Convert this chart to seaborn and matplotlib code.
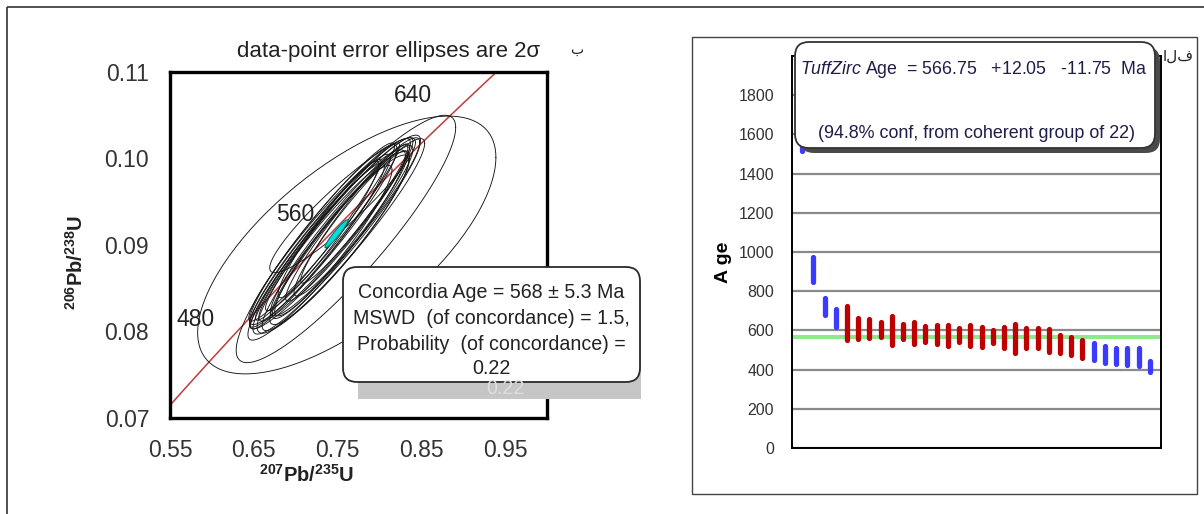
import numpy as np
import pandas as pd
import matplotlib
matplotlib.use("Agg")
import matplotlib.pyplot as plt
import seaborn as sns
from matplotlib.patches import FancyBboxPatch, Rectangle, Polygon

# ---------------- data ----------------
# Concordia plot: data-point error ellipses (centre, half-extent in x/y, correlation)
ell_cx  = [0.761, 0.760, 0.756, 0.741, 0.748, 0.733, 0.756, 0.744, 0.737, 0.759, 0.729, 0.762,
           0.745, 0.749, 0.731, 0.766, 0.726, 0.757, 0.745, 0.770, 0.727, 0.739, 0.752]
ell_cy  = [0.0900, 0.0907, 0.0946, 0.0913, 0.0918, 0.0912, 0.0915, 0.0921, 0.0900, 0.0921, 0.0905, 0.0926,
           0.0905, 0.0912, 0.0915, 0.0925, 0.0899, 0.0912, 0.0903, 0.0936, 0.0906, 0.0918, 0.0906]
ell_ex  = [0.178, 0.131, 0.087, 0.096, 0.092, 0.088, 0.084, 0.080, 0.094, 0.089, 0.084, 0.074,
           0.070, 0.100, 0.087, 0.068, 0.080, 0.097, 0.091, 0.064, 0.075, 0.060, 0.083]
ell_ey  = [0.0149, 0.0143, 0.0078, 0.0110, 0.0106, 0.0104, 0.0100, 0.0097, 0.0110, 0.0103, 0.0100, 0.0091,
           0.0087, 0.0115, 0.0103, 0.0084, 0.0096, 0.0111, 0.0105, 0.0080, 0.0093, 0.0079, 0.0098]
ell_rho = [0.68, 0.90, 0.93, 0.95, 0.96, 0.95, 0.955, 0.97, 0.94, 0.95, 0.96, 0.96,
           0.94, 0.945, 0.965, 0.95, 0.96, 0.95, 0.93, 0.96, 0.97, 0.95, 0.935]
# Concordia-age ellipse (cyan)
conc_cx, conc_cy, conc_ex, conc_ey, conc_rho = 0.7487, 0.0913, 0.0137, 0.00162, 0.95
# Concordia age markers
age_labels = [640, 560, 480]
age_label_offsets = [(-32, 25), (-31, 24), (-20, 35)]
conc_age_range = (440, 700)
LAMBDA_235 = 9.8485e-10
LAMBDA_238 = 1.55125e-10

x_ticks = [0.55, 0.65, 0.75, 0.85, 0.95]
x_ticklabels = ["0.55", "0.65", "0.75", "0.85", "0.95"]
x_minor = [0.60, 0.70, 0.80, 0.90]
y_ticks = [0.07, 0.08, 0.09, 0.10, 0.11]
y_ticklabels = ["0.07", "0.08", "0.09", "0.10", "0.11"]
y_minor = [0.075, 0.085, 0.095, 0.105]

# TuffZirc plot: grain age error bars (Ma)
grain_low  = [1515, 849, 679, 619, 551, 554, 559, 565, 524, 554, 530, 542, 530, 520, 539, 520,
              517, 534, 508, 486, 508, 508, 490, 486, 474, 457, 449, 435, 428, 423, 420, 388]
grain_high = [1640, 976, 764, 707, 724, 664, 659, 644, 673, 633, 643, 622, 626, 626, 610, 626,
              619, 602, 619, 633, 610, 614, 605, 577, 565, 551, 534, 520, 508, 508, 512, 442]
grain_group = ["rejected"] * 4 + ["coherent"] * 22 + ["rejected"] * 6
tuff_age, tuff_plus, tuff_minus = 566.75, 12.05, 11.75
r_ticks = [0, 200, 400, 600, 800, 1000, 1200, 1400, 1600, 1800]
r_minor = [100, 300, 500, 700, 900, 1100, 1300, 1500, 1700, 1900]

# ---------------- style ----------------
sns.set_style("white")
FAM = ["Liberation Sans Narrow", "Liberation Sans", "DejaVu Sans"]
plt.rcParams["font.family"] = FAM
plt.rcParams["mathtext.fontset"] = "custom"
plt.rcParams["mathtext.rm"] = "Liberation Sans"
plt.rcParams["mathtext.it"] = "Liberation Sans:italic"
plt.rcParams["mathtext.bf"] = "Liberation Sans:bold"

W, H = 1204, 514
fig = plt.figure(figsize=(W / 100, H / 100), dpi=100)
fig.patch.set_facecolor("white")


def fbox(l, t, r, b):
    return [l / W, 1 - b / H, (r - l) / W, (b - t) / H]


def fit(t, width_px):
    r = fig.canvas.get_renderer()
    w = t.get_window_extent(r).width
    t.set_fontsize(t.get_fontsize() * width_px / w)
    return t.get_fontsize()


axL = fig.add_axes(fbox(170, 72, 547, 418))
axR = fig.add_axes(fbox(792, 56, 1161, 448))
ov = fig.add_axes([0, 0, 1, 1], zorder=10)
ov.set_xlim(0, W)
ov.set_ylim(H, 0)
ov.axis("off")
ov.patch.set_alpha(0)

# ---------------- left: concordia ----------------
def concordia(t_ma):
    t = np.asarray(t_ma) * 1e6
    return np.exp(LAMBDA_235 * t) - 1, np.exp(LAMBDA_238 * t) - 1


tt = np.linspace(conc_age_range[0], conc_age_range[1], 200)
cxs, cys = concordia(tt)
axL.plot(cxs, cys, color="#c23b3b", lw=1.1, zorder=2)

theta = np.linspace(0, 2 * np.pi, 181)
rows = []
for i, (cx, cy, ex, ey, r) in enumerate(zip(ell_cx, ell_cy, ell_ex, ell_ey, ell_rho)):
    xs = cx + ex * np.cos(theta)
    ys = cy + ey * (r * np.cos(theta) + np.sqrt(1 - r ** 2) * np.sin(theta))
    for k, (a, b) in enumerate(zip(xs, ys)):
        rows.append((i, k, a, b))
edf = pd.DataFrame(rows, columns=["id", "k", "x", "y"])
sns.lineplot(data=edf, x="x", y="y", units="id", estimator=None, sort=False,
             color="#151515", lw=0.65, ax=axL, zorder=3, legend=False)

xs = conc_cx + conc_ex * np.cos(theta)
ys = conc_cy + conc_ey * (conc_rho * np.cos(theta) + np.sqrt(1 - conc_rho ** 2) * np.sin(theta))
axL.add_patch(Polygon(np.column_stack([xs, ys]), closed=True, fc="#00dede", ec="#107070", lw=0.8, zorder=4))

for age, (dx, dy) in zip(age_labels, age_label_offsets):
    px, py = concordia(age)
    axL.annotate(str(age), xy=(float(px), float(py)), xytext=(dx, dy), textcoords="offset pixels",
                 ha="center", va="center", fontsize=16.5, color="#222222", zorder=5)

axL.set_xlim(0.55, 1.0)
axL.set_ylim(0.07, 0.11)
axL.set_xticks(x_ticks)
axL.set_xticklabels(x_ticklabels)
axL.set_xticks(x_minor, minor=True)
axL.set_yticks(y_ticks)
axL.set_yticklabels(y_ticklabels)
axL.set_yticks(y_minor, minor=True)
axL.tick_params(which="both", direction="in", width=2.2, color="black", labelsize=16.5,
                labelcolor="#333333", pad=15)
axL.tick_params(which="major", length=8)
axL.tick_params(which="minor", length=6)
for s in axL.spines.values():
    s.set_linewidth(2.4)
    s.set_color("black")
axL.set_xlabel(r"$\mathbf{^{207}Pb/^{235}U}$", fontsize=14.5, color="#222222", va="center")
axL.xaxis.set_label_coords((307 - 170) / 377, -(475 - 418) / 346)
axL.set_ylabel(r"$\mathbf{^{206}Pb/^{238}U}$", fontsize=14.5, color="#222222", va="center", ha="center")
axL.yaxis.set_label_coords((76 - 170) / 377, (418 - 262) / 346)

# ---------------- right: TuffZirc ----------------
brows = []
for i, (lo, hi, g) in enumerate(zip(grain_low, grain_high, grain_group)):
    brows.append((i, lo, g))
    brows.append((i, hi, g))
bdf = pd.DataFrame(brows, columns=["grain", "age", "group"])
axR.axhspan(tuff_age - tuff_minus, tuff_age + tuff_plus, color="#8ee88e", lw=0, zorder=1)
sns.lineplot(data=bdf, x="grain", y="age", units="grain", estimator=None, hue="group",
             palette={"coherent": "#c00000", "rejected": "#3b3bff"}, lw=3.8,
             solid_capstyle="round", ax=axR, legend=False, zorder=3)
axR.set_xlim(-0.9, 32)
axR.set_ylim(0, 2000)
axR.set_xticks([])
axR.set_yticks(r_ticks)
axR.set_yticklabels([str(v) for v in r_ticks])
axR.set_yticks(r_minor, minor=True)
axR.yaxis.grid(True, which="major", color="#8a8a8a", lw=1.6)
axR.set_axisbelow(True)
axR.tick_params(axis="y", which="major", direction="in", length=0, labelsize=11.5,
                labelcolor="#333333", pad=13)
axR.tick_params(axis="y", which="minor", direction="in", length=3, width=1.5, color="black")
for s in axR.spines.values():
    s.set_linewidth(1.4)
    s.set_color("black")
axR.set_xlabel("")
axR.set_ylabel("A ge", fontsize=14, fontweight="bold", color="black", va="center", ha="center")
axR.yaxis.set_label_coords((724 - 792) / 369, (448 - 262) / 392)

# ---------------- overlay: frames, boxes, text ----------------
ov.add_patch(Rectangle((7, 7), 1230, 540, fill=False, ec="#333333", lw=1.2))
ov.add_patch(Rectangle((692, 37), 505, 457, fill=False, ec="#444444", lw=1.0))

t = ov.text(389, 52, "data-point error ellipses are 2σ", fontsize=15, ha="center", va="center", color="#222222")
fit(t, 304)
ov.text(577, 50, "ب", fontsize=10, ha="center", va="center", family=["DejaVu Sans"], color="#222222")
ov.text(1178, 56, "الف", fontsize=11, ha="center", va="center", family=["DejaVu Sans"], color="#222222")

# concordia age box
ov.add_patch(Rectangle((358, 285), 283, 114, fc="#c6c6c6", ec="none"))
g = ov.text(505, 389, "0.22", fontsize=15, ha="center", va="center", color="#dedede")
ov.add_patch(FancyBboxPatch((343, 267), 297, 115, boxstyle="round,pad=0,rounding_size=14",
                            fc="white", ec="#2a2a2a", lw=1.3))
conc_lines = ["Concordia Age = 568 ± 5.3 Ma", "MSWD  (of concordance) = 1.5,",
              "Probability  (of concordance) =", "0.22"]
texts = [ov.text(491, yy, txt, fontsize=15, ha="center", va="center", color="#222222")
         for txt, yy in zip(conc_lines, [293, 318, 345, 369])]
fs = fit(texts[0], 266)
for tx in texts[1:]:
    tx.set_fontsize(fs)
g.set_fontsize(fs)

# TuffZirc box
ov.add_patch(FancyBboxPatch((800, 47), 360, 106, boxstyle="round,pad=0,rounding_size=14",
                            fc="#4a4a4a", ec="none"))
ov.add_patch(FancyBboxPatch((795, 42), 360, 106, boxstyle="round,pad=0,rounding_size=14",
                            fc="white", ec="#333333", lw=1.3))
t1 = ov.text(974, 69, r"$\mathit{TuffZirc}$ Age  = 566.75   +12.05   -11.75  Ma", fontsize=13,
             ha="center", va="center", color="#1e1e4a")
t2 = ov.text(976, 133, "(94.8% conf, from coherent group of 22)", fontsize=13,
             ha="center", va="center", color="#1e1e4a")
fit(t1, 346)
fit(t2, 317)

fig.savefig("out.png", dpi=100, facecolor="white")
